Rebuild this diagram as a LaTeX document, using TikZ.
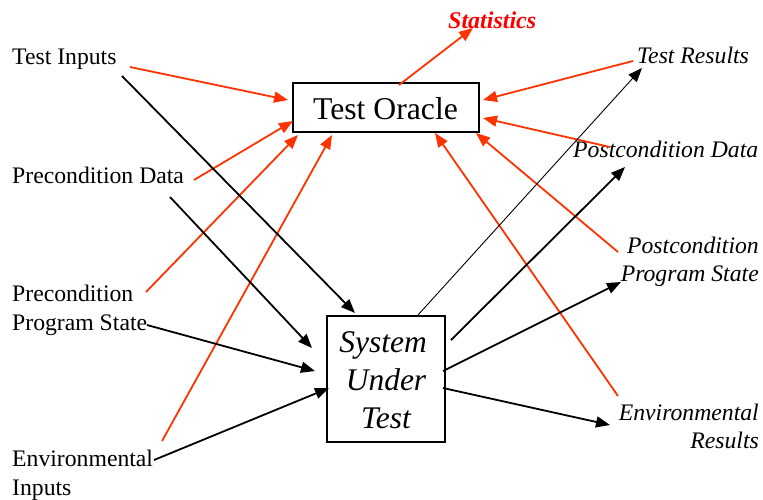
\documentclass[tikz,border=0pt]{standalone}
\usepackage{fontspec}
\setmainfont{Liberation Serif}
\usetikzlibrary{arrows.meta}
\definecolor{arrred}{RGB}{255,51,0}
\definecolor{statred}{RGB}{255,0,0}
\begin{document}
\begin{tikzpicture}[x=1pt,y=-1pt,
  lbl/.style={font=\fontsize{23.7}{28.5}\selectfont, inner sep=0pt},
  ilbl/.style={font=\fontsize{23.7}{28.5}\selectfont\itshape, inner sep=0pt},
  bigtxt/.style={inner sep=0pt},
  boxstyle/.style={draw=black, line width=1.4pt, inner sep=0pt},
  tipstyle/.style={-{Triangle[length=14pt,width=11pt]}},
  redarrow/.style={tipstyle, draw=arrred, line width=1.8pt},
  blkarrow/.style={tipstyle, draw=black, line width=1.8pt},
  thinarrow/.style={tipstyle, draw=black, line width=0.9pt}]
\useasboundingbox (0,0) rectangle (763,499);

% boxes
\node[boxstyle, minimum width=186pt, minimum height=49pt] (oracle) at (386,107.5) {};
\node[bigtxt, anchor=base, font=\fontsize{31.7}{36}\selectfont] (oracletxt) at (385.5,119.5) {Test Oracle};
\node[boxstyle, minimum width=118pt, minimum height=126pt] (sut) at (386,379) {};
\node[bigtxt, anchor=base, font=\fontsize{31.5}{38}\selectfont\itshape] (sut1) at (383,352) {System};
\node[bigtxt, anchor=base, font=\fontsize{31.5}{38}\selectfont\itshape] (sut2) at (386,390) {Under};
\node[bigtxt, anchor=base, font=\fontsize{31.5}{38}\selectfont\itshape] (sut3) at (386,428) {Test};

% labels left
\node[lbl, anchor=base west] (ti) at (12,64) {Test Inputs};
\node[lbl, anchor=base west] (pd) at (12,183) {Precondition Data};
\node[lbl, anchor=base west] (ps1) at (12,301) {Precondition};
\node[lbl, anchor=base west] (ps2) at (12,330) {Program State};
\node[lbl, anchor=base west] (ei1) at (12,466) {Environmental};
\node[lbl, anchor=base west] (ei2) at (12,495) {Inputs};

% labels right
\node[ilbl, anchor=base west] (tr) at (637,63) {Test Results};
\node[ilbl, anchor=base west] (pod) at (573,157) {Postcondition Data};
\node[ilbl, anchor=base east] (pps1) at (759,253) {Postcondition};
\node[ilbl, anchor=base east] (pps2) at (759,281) {Program State};
\node[ilbl, anchor=base east] (er1) at (759,420) {Environmental};
\node[ilbl, anchor=base east] (er2) at (759,448) {Results};
\node[inner sep=0pt, anchor=base west, text=statred, font=\fontsize{24}{28}\selectfont\bfseries\itshape] (stat) at (448,28) {Statistics};

% connector end points
\coordinate (r1s) at (130,67);  \coordinate (r1e) at (288,100);
\coordinate (r2s) at (194,180); \coordinate (r2e) at (293,121);
\coordinate (r3s) at (146,292); \coordinate (r3e) at (298,135);
\coordinate (r4s) at (162,441); \coordinate (r4e) at (332,135);
\coordinate (r5s) at (633,61);  \coordinate (r5e) at (483,100);
\coordinate (r6s) at (610,147); \coordinate (r6e) at (483,118);
\coordinate (r7s) at (618,252); \coordinate (r7e) at (476,133);
\coordinate (r8s) at (618,396); \coordinate (r8e) at (435,133);
\coordinate (r9s) at (399,85);  \coordinate (r9e) at (473,28);

\coordinate (b1s) at (122,76);  \coordinate (b1e) at (355,313);
\coordinate (b2s) at (170,197); \coordinate (b2e) at (312,348);
\coordinate (b3s) at (147,325); \coordinate (b3e) at (315,371);
\coordinate (b4s) at (154,460); \coordinate (b4e) at (329,388);
\coordinate (b5s) at (418,315); \coordinate (b5e) at (642,68);
\coordinate (b6s) at (451,340); \coordinate (b6e) at (625,167);
\coordinate (b7s) at (443,371); \coordinate (b7e) at (621,282);
\coordinate (b8s) at (443,388); \coordinate (b8e) at (610,425);

% red arrows into the oracle
\draw[redarrow] (r1s) -- (r1e);
\draw[redarrow] (r2s) -- (r2e);
\draw[redarrow] (r3s) -- (r3e);
\draw[redarrow] (r4s) -- (r4e);
\draw[redarrow] (r5s) -- (r5e);
\draw[redarrow] (r6s) -- (r6e);
\draw[redarrow] (r7s) -- (r7e);
\draw[redarrow] (r8s) -- (r8e);
\draw[redarrow] (r9s) -- (r9e);

% black arrows through the system under test
\draw[blkarrow] (b1s) -- (b1e);
\draw[blkarrow] (b2s) -- (b2e);
\draw[blkarrow] (b3s) -- (b3e);
\draw[blkarrow] (b4s) -- (b4e);
\draw[thinarrow] (b5s) -- (b5e);
\draw[blkarrow] (b6s) -- (b6e);
\draw[blkarrow] (b7s) -- (b7e);
\draw[blkarrow] (b8s) -- (b8e);
\end{tikzpicture}
\end{document}
